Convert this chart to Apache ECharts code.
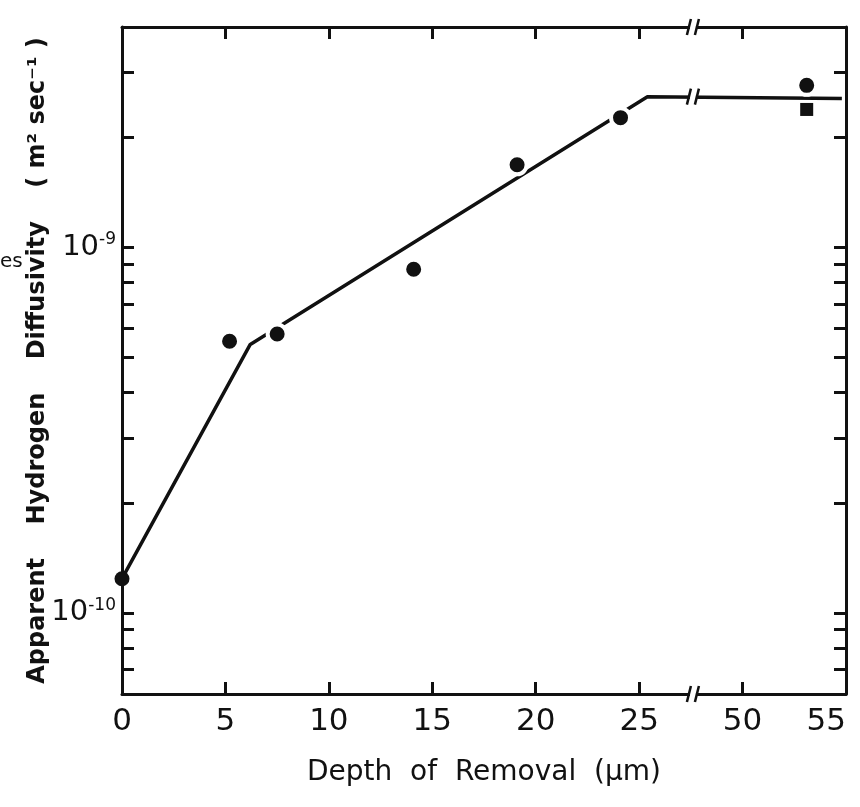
<!DOCTYPE html>
<html>
<head>
<meta charset="utf-8">
<script src="https://cdn.jsdelivr.net/npm/echarts@6/dist/echarts.min.js"></script>
<style>
  html, body { margin: 0; padding: 0; background: #fff; }
  #chart { width: 860px; height: 807px; }
</style>
</head>
<body>
<div id="chart"></div>
<script>
// ---- data ----
const pointDepths = [0, 5.2, 7.5, 14.1, 19.1, 24.1, 53.1];          // µm
const pointDiffusivity = [1.24e-10, 5.53e-10, 5.79e-10, 8.7e-10, 1.68e-9, 2.26e-9, 2.77e-9];
const squareDepths = [53.1];
const squareDiffusivity = [2.38e-9];
const fitDepths = [0, 6.2, 25.4, 54.8];
const fitDiffusivity = [1.24e-10, 5.42e-10, 2.58e-9, 2.55e-9];

const xTickDepths = [0, 5, 10, 15, 20, 25, 50, 55];
const xTickLabels = ['0', '5', '10', '15', '20', '25', '50', '55'];
const yMinorTicks = [6e-11, 7e-11, 8e-11, 9e-11, 1e-10, 2e-10, 3e-10, 4e-10, 5e-10, 6e-10, 7e-10, 8e-10, 9e-10, 1e-9, 2e-9, 3e-9];
const yLabelValues = [1e-10, 1e-9];
const yLabelExponents = ['-10', '-9'];
const yMin = 6e-11, yMax = 4e-9;

// broken depth axis: 0..~27.6 shown as-is, 50..55 shifted left by 20
const BREAK_SHIFT = 20;
const BREAK_AT = 27.6;
const toAxis = d => (d >= 40 ? d - BREAK_SHIFT : d);
const breakYValues = [yMax, yMin, 2.58e-9];

const xTickPos = xTickDepths.map(toAxis);
const labelByPos = {};
xTickPos.forEach((p, i) => { labelByPos[p] = xTickLabels[i]; });
const innerTicks = xTickPos.slice(1, -1);

const font = 'DejaVu Sans';
const black = '#111';

const chart = echarts.init(document.getElementById('chart'));

const xAxisCommon = {
  type: 'value', min: 0, max: toAxis(55),
  axisLine: { show: true, onZero: false, lineStyle: { color: black, width: 3 } },
  axisTick: { show: true, inside: true, length: 12, lineStyle: { color: black, width: 3 }, customValues: innerTicks },
  splitLine: { show: false }
};
const yAxisCommon = {
  type: 'log', logBase: 10, min: yMin, max: yMax,
  axisLine: { show: true, onZero: false, lineStyle: { color: black, width: 3 } },
  axisTick: { show: true, inside: true, length: 12, lineStyle: { color: black, width: 3 }, customValues: yMinorTicks },
  splitLine: { show: false },
  minorTick: { show: false }
};

chart.setOption({
  backgroundColor: '#fff',
  animation: false,
  grid: { left: 122, right: 14, top: 27, bottom: 113, containLabel: false },
  xAxis: [
    Object.assign({}, xAxisCommon, {
      position: 'bottom',
      name: 'Depth  of  Removal  (μm)',
      nameLocation: 'middle',
      nameGap: 65,
      nameMoveOverlap: false,
      nameTextStyle: { fontFamily: font, fontSize: 28, color: black },
      axisLabel: {
        show: true, margin: 12, customValues: xTickPos,
        fontFamily: font, fontSize: 31, color: black,
        alignMaxLabel: 'right',
        formatter: v => labelByPos[v] !== undefined ? labelByPos[v] : ''
      }
    }),
    Object.assign({}, xAxisCommon, { position: 'top', axisLabel: { show: false } })
  ],
  yAxis: [
    Object.assign({}, yAxisCommon, {
      position: 'left',
      name: 'Apparent    Hydrogen    Diffusivity    ( m² sec⁻¹ )',
      nameLocation: 'middle',
      nameGap: 72,
      nameMoveOverlap: false,
      nameTextStyle: { fontFamily: font, fontSize: 24, fontWeight: 'bold', color: black },
      axisLabel: {
        show: true, margin: 6, customValues: yLabelValues,
        formatter: v => {
          const i = yLabelValues.findIndex(x => Math.abs(Math.log10(x) - Math.log10(v)) < 1e-6);
          return '{b|10}{s|' + (i >= 0 ? yLabelExponents[i] : '') + '}';
        },
        rich: {
          b: { fontFamily: font, fontSize: 29, color: black, lineHeight: 32 },
          s: { fontFamily: font, fontSize: 17, color: black, lineHeight: 17, verticalAlign: 'top' }
        }
      }
    }),
    Object.assign({}, yAxisCommon, { position: 'right', axisLabel: { show: false } })
  ],
  graphic: [
    { type: 'text', left: 0, top: 252, style: { text: 'es', fontFamily: font, fontSize: 20, fill: black } }
  ],
  series: [
    {
      type: 'line', name: 'fit', z: 2,
      data: fitDepths.map((d, i) => [toAxis(d), fitDiffusivity[i]]),
      showSymbol: false, symbol: 'none',
      lineStyle: { color: black, width: 3.5 }
    },
    {
      type: 'scatter', name: 'circles', z: 3,
      data: pointDepths.map((d, i) => ({
        value: [toAxis(d), pointDiffusivity[i]],
        symbolSize: d === 0 ? 15 : 19,
        itemStyle: d === 0 ? { borderWidth: 0 } : {}
      })),
      symbol: 'circle',
      itemStyle: { color: black, borderColor: '#fff', borderWidth: 4, opacity: 1 }
    },
    {
      type: 'scatter', name: 'squares', z: 3,
      data: squareDepths.map((d, i) => [toAxis(d), squareDiffusivity[i]]),
      symbol: 'rect', symbolSize: 13,
      itemStyle: { color: black, opacity: 1 }
    },
    {
      type: 'custom', name: 'breaks', z: 5, clip: false,
      data: breakYValues.map(v => [BREAK_AT, v]),
      renderItem: (params, api) => {
        const p = api.coord([api.value(0), api.value(1)]);
        const h = 8;
        return {
          type: 'group',
          children: [
            { type: 'rect', shape: { x: p[0] - 3, y: p[1] - 7, width: 6, height: 14 }, style: { fill: '#fff' } },
            { type: 'line', shape: { x1: p[0] - 6, y1: p[1] + h, x2: p[0] - 2, y2: p[1] - h }, style: { stroke: black, lineWidth: 2.5 } },
            { type: 'line', shape: { x1: p[0] + 2, y1: p[1] + h, x2: p[0] + 6, y2: p[1] - h }, style: { stroke: black, lineWidth: 2.5 } }
          ]
        };
      }
    }
  ]
});
</script>
</body>
</html>
